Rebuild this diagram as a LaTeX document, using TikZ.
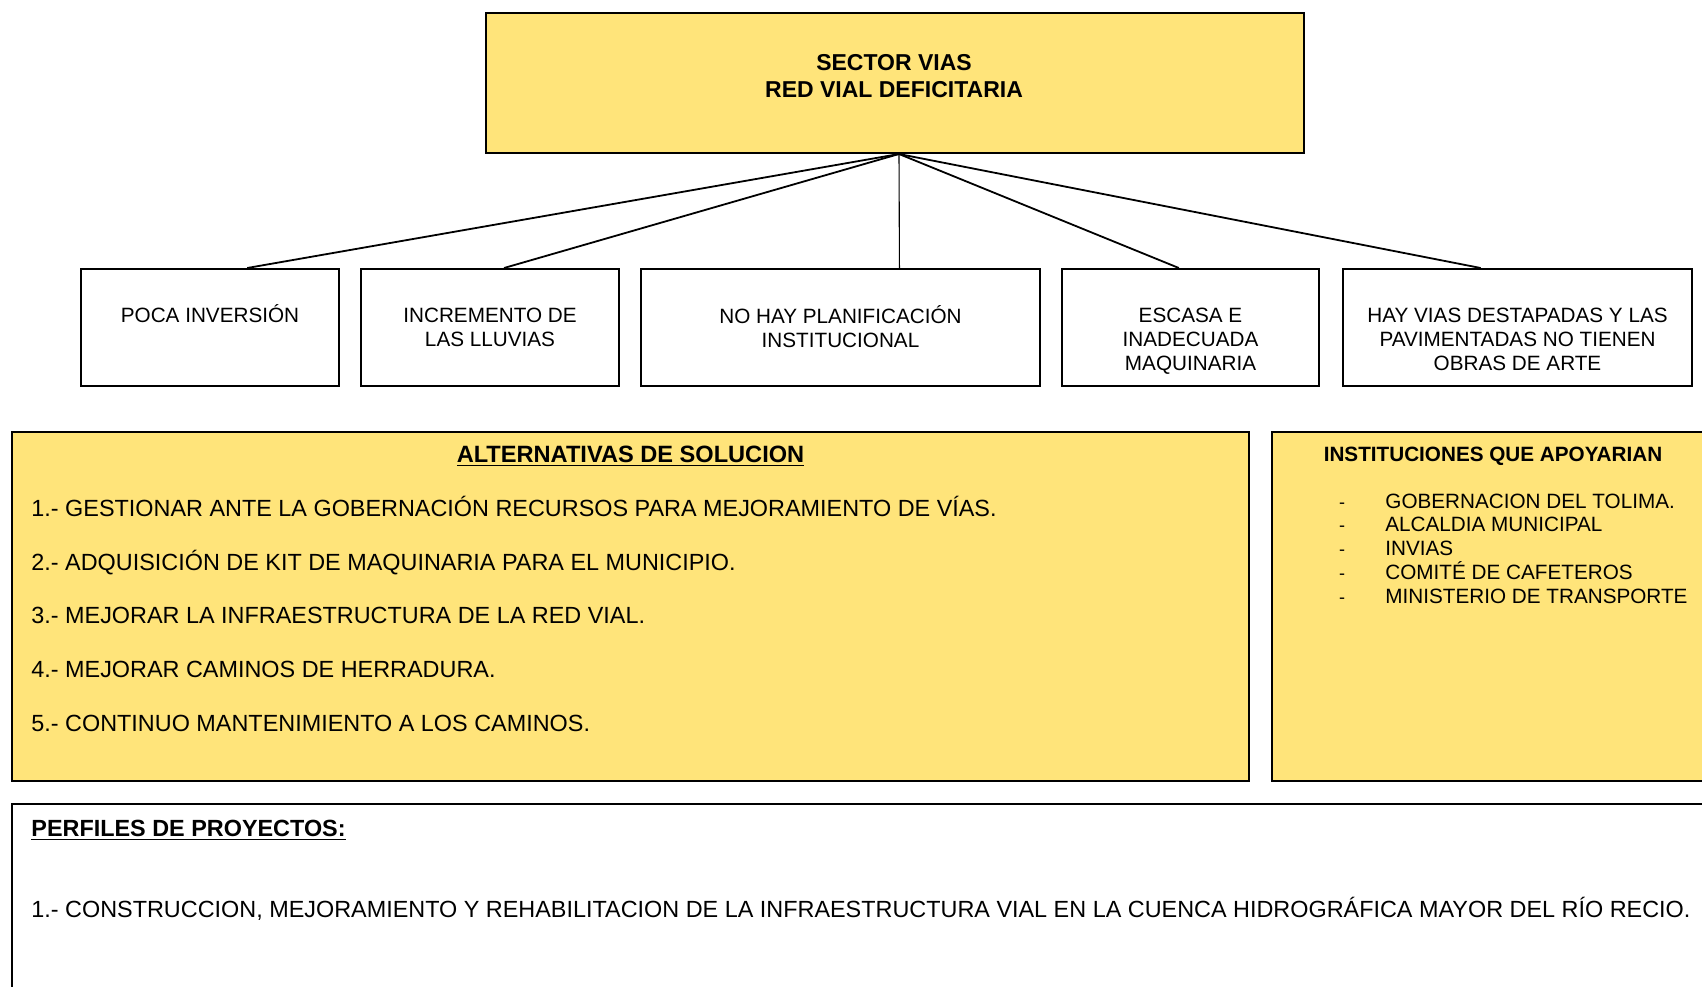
\documentclass[tikz,border=0pt]{standalone}
\usepackage{fontspec}
\setmainfont{Liberation Sans}
\usetikzlibrary{calc}
\definecolor{boxyellow}{RGB}{255,228,122}
\begin{document}
\begin{tikzpicture}[x=0.5pt,y=-0.5pt,
  box/.style={draw=black, line width=1pt, inner sep=0pt, anchor=north west},
  ybox/.style={box, fill=boxyellow},
  conn/.style={draw=black, line width=0.9pt},
  thinconn/.style={draw=black, line width=0.55pt},
  boxtxt/.style={anchor=north, align=center, inner sep=0pt, font=\fontsize{10.35}{12}\selectfont},
  toptxt/.style={align=center, inner sep=0pt, font=\fontsize{11.5}{13.5}\selectfont\bfseries},
  titletxt/.style={anchor=base, inner sep=0pt, font=\fontsize{11.8}{14}\selectfont\bfseries},
  smalltitle/.style={anchor=base, inner sep=0pt, font=\fontsize{10.35}{12}\selectfont\bfseries},
  itemtxt/.style={anchor=base west, inner sep=0pt, font=\fontsize{11.7}{14}\selectfont},
  listtxt/.style={anchor=base west, inner sep=0pt, font=\fontsize{10.35}{12}\selectfont},
  dashtxt/.style={anchor=base, inner sep=0pt, font=\fontsize{9}{12}\selectfont}
]
\useasboundingbox (0,0) rectangle (1702,986);
\clip (0,0) rectangle (1702,986);

% top box
\node[ybox, minimum width=409pt, minimum height=70pt] (top) at (485,12) {};
\node[toptxt] (toptext) at (894,76) {SECTOR VIAS\\RED VIAL DEFICITARIA};

% cause boxes
\node[box, minimum width=129pt, minimum height=58.5pt] (b1) at (80,268) {};
\node[box, minimum width=129pt, minimum height=58.5pt] (b2) at (360,268) {};
\node[box, minimum width=199.5pt, minimum height=58.5pt] (b3) at (640,268) {};
\node[box, minimum width=128.5pt, minimum height=58.5pt] (b4) at (1061,268) {};
\node[box, minimum width=174.5pt, minimum height=58.5pt] (b5) at (1342,268) {};

\node[boxtxt] (t1) at ($(b1.north)+(0,36)$) {\strut POCA INVERSIÓN};
\node[boxtxt] (t2) at ($(b2.north)+(0,37)$) {\strut INCREMENTO DE\\LAS LLUVIAS};
\node[boxtxt] (t3) at ($(b3.north)+(0,37)$) {\strut NO HAY PLANIFICACIÓN\\INSTITUCIONAL};
\node[boxtxt] (t4) at ($(b4.north)+(0,37)$) {\strut ESCASA E\\INADECUADA\\MAQUINARIA};
\node[boxtxt] (t5) at ($(b5.north)+(0,37)$) {\strut HAY VIAS DESTAPADAS Y LAS\\PAVIMENTADAS NO TIENEN\\OBRAS DE ARTE};

% connectors
\coordinate (apex) at ($(top.south)+(4,0)$);
\draw[conn] (apex) -- ($(b1.north west)!0.643!(b1.north east)$);
\draw[conn] (apex) -- ($(b2.north west)!0.554!(b2.north east)$);
\draw[thinconn] (apex) -- ($(b3.north west)!0.647!(b3.north east)$);
\draw[conn] (apex) -- ($(b4.north west)!0.455!(b4.north east)$);
\draw[conn] (apex) -- ($(b5.north west)!0.395!(b5.north east)$);

% alternativas
\node[ybox, minimum width=618.5pt, minimum height=174.5pt] (alt) at (11,431) {};
\node[titletxt] (alttitle) at ($(alt.north)+(0,31)$) {\underline{ALTERNATIVAS DE SOLUCION}};
\node[itemtxt] (a1) at (31,516) {1.- GESTIONAR ANTE LA GOBERNACIÓN RECURSOS PARA MEJORAMIENTO DE VÍAS.};
\node[itemtxt] (a2) at (31,570) {2.- ADQUISICIÓN DE KIT DE MAQUINARIA PARA EL MUNICIPIO.};
\node[itemtxt] (a3) at (31,623) {3.- MEJORAR LA INFRAESTRUCTURA DE LA RED VIAL.};
\node[itemtxt] (a4) at (31,677) {4.- MEJORAR CAMINOS DE HERRADURA.};
\node[itemtxt] (a5) at (31,731) {5.- CONTINUO MANTENIMIENTO A LOS CAMINOS.};

% instituciones
\node[ybox, minimum width=222pt, minimum height=174.5pt] (inst) at (1271,431) {};
\node[smalltitle] (insttitle) at (1493,461) {INSTITUCIONES QUE APOYARIAN};
\foreach \i/\txt in {0/GOBERNACION DEL TOLIMA., 1/ALCALDIA MUNICIPAL, 2/INVIAS, 3/COMITÉ DE CAFETEROS, 4/MINISTERIO DE TRANSPORTE}{
  \node[dashtxt] (d\i) at (1342,{508+23.9*\i}) {-};
  \node[listtxt] (l\i) at (1385,{508+23.9*\i}) {\txt};
}

% perfiles
\node[box, line width=0.8pt, minimum width=860pt, minimum height=100pt] (perf) at (11,803) {};
\node[itemtxt, font=\fontsize{11.7}{14}\selectfont\bfseries] (perftitle) at (31,836) {\underline{PERFILES DE PROYECTOS:}};
\node[itemtxt] (p1) at (31,917) {1.- CONSTRUCCION, MEJORAMIENTO Y REHABILITACION DE LA INFRAESTRUCTURA VIAL EN LA CUENCA HIDROGRÁFICA MAYOR DEL RÍO RECIO.};
\end{tikzpicture}
\end{document}
